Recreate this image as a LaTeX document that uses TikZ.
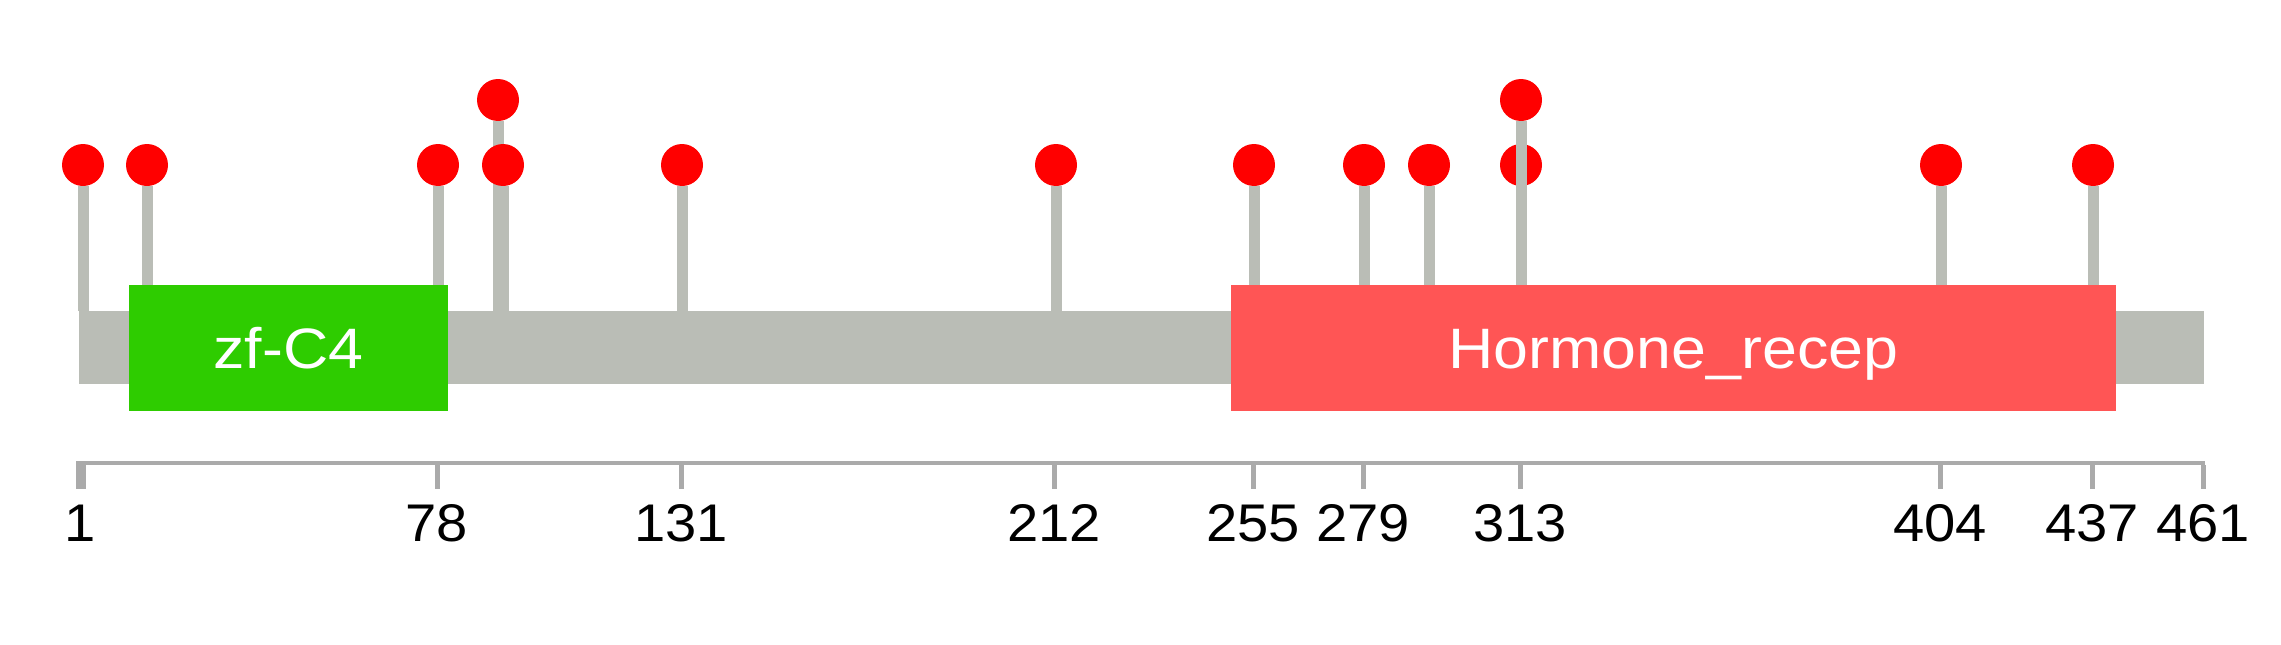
\documentclass[tikz,border=0pt]{standalone}
\usepackage{fontspec}
\setmainfont{Liberation Sans}
\newfontfamily\domfont[FakeStretch=1.1]{Liberation Sans}
\newfontfamily\tickfont[FakeStretch=1.06]{Liberation Sans}
\usetikzlibrary{calc}

\definecolor{chain}{HTML}{BABDB6}
\definecolor{ruler}{HTML}{AAAAAA}
\definecolor{zfgreen}{HTML}{2ECC00}
\definecolor{hrred}{HTML}{FF5555}
\definecolor{mutred}{HTML}{FF0000}

\tikzset{
  mut/.style={circle, fill=mutred, inner sep=0pt, minimum size=42pt},
  stem/.style={chain, line width=11pt},
  dombox/.style={inner sep=0pt, text=white, minimum height=126pt,
    text height=41pt, text depth=0pt, font=\domfont\fontsize{57}{66}\selectfont},
  ticklab/.style={anchor=base, inner sep=0pt, font=\tickfont\fontsize{53}{60}\selectfont}
}

\begin{document}
\begin{tikzpicture}[x=1pt, y=-1pt]
            \useasboundingbox (0,0) rectangle (2281,645);

            % protein chain
            \fill[chain] (79,311) rectangle (2204,384);

            % stacked lollipop at 91, drawn under its neighbour
            \coordinate (b91) at (498,311);
            \node[mut] (m91) at (498,100) {};
            \draw[stem] (b91) -- (m91);

            % lollipops, first row
            \foreach \n/\px in {1/83, 15/147, 78/438, 92/503, 131/682, 212/1056,
                                255/1254, 279/1364, 293/1429, 313/1521, 404/1941, 437/2093} {
              \coordinate (b\n) at (\px,311);
              \node[mut] (m\n) at (\px,165) {};
              \draw[stem] (b\n) -- (m\n);
            }

            % stacked lollipop at 313
            \coordinate (c313) at (1521,311);
            \node[mut] (t313) at (1521,100) {};
            \draw[stem] (c313) -- (t313);

            % domains
            \node[dombox, fill=zfgreen, minimum width=319pt] (zf) at (288.5,348) {zf-C4};
            \node[dombox, fill=hrred, minimum width=885pt] (hr) at (1673.5,348) {Hormone\_recep};

            % ruler
            \coordinate (r0) at (78,463);
            \coordinate (r1) at (2205,463);
            \draw[ruler, line width=4.5pt] (r0) -- (r1);
            \draw[ruler, line width=9.5pt] (81,461) -- (81,489);
            \foreach \n/\px in {78/437, 131/681, 212/1054, 255/1253, 279/1363,
                                313/1520, 404/1940, 437/2092, 461/2203} {
              \draw[ruler, line width=5pt] (\px,465) -- (\px,489);
            }
            \foreach \n/\px in {1/80, 78/437, 131/681, 212/1054, 255/1253, 279/1363,
                                313/1520, 404/1940, 437/2092, 461/2203} {
              \node[ticklab] (l\n) at (\px,541) {\n};
            }
        \end{tikzpicture}
\end{document}
